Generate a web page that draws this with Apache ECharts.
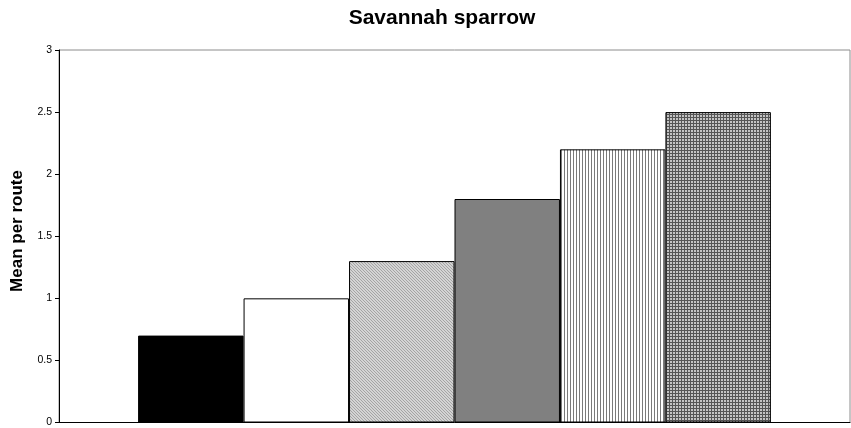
<!DOCTYPE html>
<html>
<head>
<meta charset="utf-8">
<script src="https://cdn.jsdelivr.net/npm/echarts@6/dist/echarts.min.js"></script>
<style>
html,body{margin:0;padding:0;background:#fff;}
#chart{width:851px;height:428px;}
</style>
</head>
<body>
<div id="chart"></div>
<script>
// Mean Savannah sparrow count per route, one bar per group
const categories = [''];
const groupNames = ['G1', 'G2', 'G3', 'G4', 'G5', 'G6'];
const groupValues = [0.7, 1.0, 1.3, 1.8, 2.2, 2.5];
const yTicks = { min: 0, max: 3, step: 0.5 };

const FONT = 'Liberation Sans, Arial, sans-serif';

// Small repeating tiles used as bar fills
function tile(size, draw) {
  const c = document.createElement('canvas');
  c.width = size; c.height = size;
  const g = c.getContext('2d');
  draw(g, size);
  return { image: c, repeat: 'repeat' };
}

const diagonalFill = tile(3, (g, s) => {
  g.fillStyle = '#d4d4d4'; g.fillRect(0, 0, s, s);
  g.fillStyle = '#a4a4a4';
  for (let i = 0; i < s; i++) g.fillRect(i, i, 1, 1);
});

const verticalFill = tile(3, (g, s) => {
  g.fillStyle = '#ffffff'; g.fillRect(0, 0, s, s);
  g.fillStyle = '#7a7a7a'; g.fillRect(0, 0, 1, s);
});

const gridFill = tile(3, (g, s) => {
  g.fillStyle = '#c4c4c4'; g.fillRect(0, 0, s, s);
  g.fillStyle = '#555555';
  g.fillRect(0, 0, s, 1);
  g.fillRect(0, 0, 1, s);
});

const fills = ['#000000', '#ffffff', diagonalFill, '#808080', verticalFill, gridFill];

const chart = echarts.init(document.getElementById('chart'));
chart.setOption({
  animation: false,
  backgroundColor: '#ffffff',
  title: {
    text: 'Savannah sparrow',
    left: 437,
    textAlign: 'center',
    top: 3,
    textStyle: { fontFamily: FONT, fontSize: 21, fontWeight: 'bold', color: '#000' }
  },
  graphic: [{
    type: 'text',
    x: 17,
    y: 231,
    rotation: Math.PI / 2,
    style: {
      text: 'Mean per route',
      font: 'bold 17px ' + FONT,
      fill: '#000',
      align: 'center',
      verticalAlign: 'middle'
    }
  }],
  grid: {
    left: 59, right: 1, top: 50, bottom: 4,
    show: true, borderColor: '#8c8c8c', borderWidth: 1, backgroundColor: 'transparent'
  },
  xAxis: {
    type: 'category',
    data: categories,
    axisLine: { show: true, lineStyle: { color: '#000', width: 1 } },
    axisTick: { show: false },
    axisLabel: { show: false }
  },
  yAxis: {
    type: 'value',
    min: yTicks.min, max: yTicks.max, interval: yTicks.step,
    axisLine: { show: true, lineStyle: { color: '#000', width: 1 } },
    axisTick: { show: true, length: 4, lineStyle: { color: '#000' } },
    axisLabel: { fontFamily: FONT, fontSize: 10.5, color: '#000', margin: 7 },
    splitLine: { show: false }
  },
  series: groupValues.map((v, i) => ({
    name: groupNames[i],
    type: 'bar',
    data: [v],
    barGap: '0%',
    barCategoryGap: '20%',
    itemStyle: { color: fills[i], borderColor: '#000', borderWidth: 1 }
  }))
});
</script>
</body>
</html>
